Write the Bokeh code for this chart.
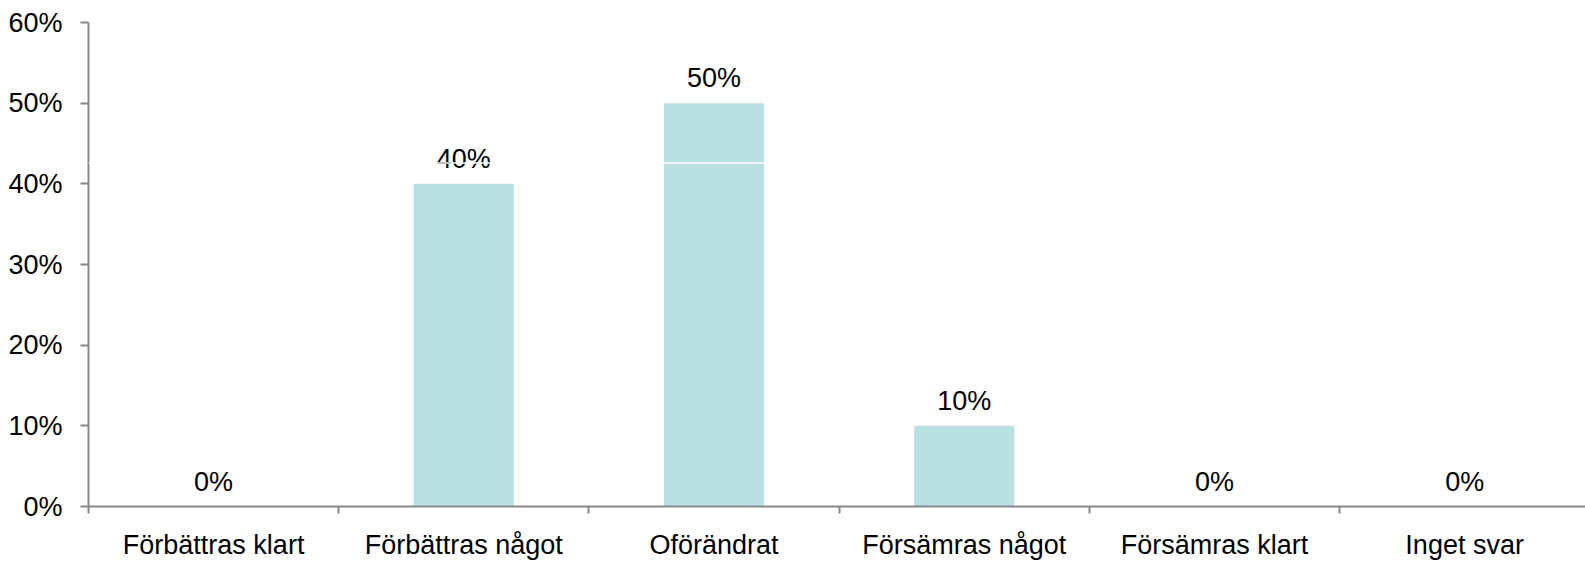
from bokeh.plotting import figure
from bokeh.models import Range1d, FixedTicker, LinearAxis, NumeralTickFormatter, ColumnDataSource, Span
from bokeh.core.properties import value
from bokeh.embed import file_html
from bokeh.resources import INLINE

categories = ["Förbättras klart", "Förbättras något", "Oförändrat", "Försämras något", "Försämras klart", "Inget svar"]
shares = [0.0, 0.40, 0.50, 0.10, 0.0, 0.0]
y_ticks = [0.0, 0.1, 0.2, 0.3, 0.4, 0.5, 0.6]

FONT = "Liberation Sans"
FS = "27px"
AXIS_GREY = "#878787"

centers = [i + 0.5 for i in range(len(categories))]
bounds = [float(i) for i in range(len(categories) + 1)]
labels = [f"{round(v * 100)}%" for v in shares]

src = ColumnDataSource(dict(x=centers, top=shares, lab=labels))

p = figure(width=1585, height=562, output_backend="svg", toolbar_location=None,
           x_range=Range1d(0, 5.983), y_range=Range1d(0, 0.6),
           min_border_left=88, min_border_right=0, min_border_top=22, min_border_bottom=55,
           x_axis_type=None, y_axis_type=None)
p.outline_line_color = None
p.background_fill_color = "white"
p.border_fill_color = "white"

p.vbar(x="x", top="top", width=0.4, bottom=0, source=src,
       fill_color="#BBE0E3", line_color=None)

p.text(x="x", y="top", text="lab", source=src, text_align="center",
       text_baseline="alphabetic", y_offset=-25,
       text_font=value(FONT), text_font_size=FS, text_color="black")

# y axis
yax = LinearAxis(ticker=FixedTicker(ticks=y_ticks),
                 formatter=NumeralTickFormatter(format="0%"))
yax.axis_line_color = AXIS_GREY
yax.axis_line_width = 2
yax.major_tick_line_color = AXIS_GREY
yax.major_tick_line_width = 2
yax.major_tick_out = 8
yax.major_tick_in = 0
yax.minor_tick_line_color = None
yax.major_label_standoff = 18
yax.major_label_text_font = FONT
yax.major_label_text_font_size = FS
yax.major_label_text_color = "black"
p.add_layout(yax, "left")

# x axis: labels at centers, tick marks at boundaries (minor ticks)
xax = LinearAxis(ticker=FixedTicker(ticks=centers, minor_ticks=bounds))
xax.major_label_overrides = {c: name for c, name in zip(centers, categories)}
xax.axis_line_color = AXIS_GREY
xax.axis_line_width = 2
xax.major_tick_line_color = None
xax.major_tick_out = 0
xax.major_tick_in = 0
xax.minor_tick_line_color = AXIS_GREY
xax.minor_tick_line_width = 2
xax.minor_tick_out = 7
xax.minor_tick_in = 0
xax.major_label_standoff = 16
xax.major_label_text_font = FONT
xax.major_label_text_font_size = FS
xax.major_label_text_color = "black"
p.add_layout(xax, "below")

p.ygrid.ticker = FixedTicker(ticks=y_ticks)
p.ygrid.grid_line_color = AXIS_GREY
p.ygrid.grid_line_width = 2
p.xgrid.grid_line_color = None

# thin white rendering seam visible in the original image
p.add_layout(Span(location=0.4257, dimension="width", line_color="white",
                  line_width=1.5, level="overlay"))

open("out.html", "w").write(file_html(p, INLINE))
